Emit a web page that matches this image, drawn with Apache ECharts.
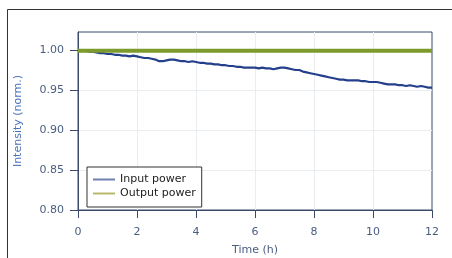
<!DOCTYPE html>
<html><head><meta charset="utf-8">
<script src="https://cdn.jsdelivr.net/npm/echarts@6/dist/echarts.min.js"></script>
<style>html,body{margin:0;padding:0;background:#fff}#c{width:452px;height:258px}</style>
</head><body><div id="c"></div>
<script>
var inputTimes = [0,0.125,0.25,0.375,0.5,0.625,0.75,0.875,1,1.125,1.25,1.375,1.5,1.625,1.75,1.875,2,2.125,2.25,2.375,2.5,2.625,2.75,2.875,3,3.125,3.25,3.375,3.5,3.625,3.75,3.875,4,4.125,4.25,4.375,4.5,4.625,4.75,4.875,5,5.125,5.25,5.375,5.5,5.625,5.75,5.875,6,6.125,6.25,6.375,6.5,6.625,6.75,6.875,7,7.125,7.25,7.375,7.5,7.625,7.75,7.875,8,8.125,8.25,8.375,8.5,8.625,8.75,8.875,9,9.125,9.25,9.375,9.5,9.625,9.75,9.875,10,10.125,10.25,10.375,10.5,10.625,10.75,10.875,11,11.125,11.25,11.375,11.5,11.625,11.75,11.875,12];
var inputPower = [0.999,0.999,0.999,0.998,0.998,0.997,0.996,0.996,0.995,0.995,0.994,0.994,0.993,0.993,0.992,0.993,0.992,0.991,0.990,0.990,0.989,0.988,0.986,0.986,0.987,0.988,0.988,0.987,0.986,0.986,0.985,0.986,0.985,0.984,0.984,0.983,0.983,0.982,0.982,0.981,0.981,0.980,0.980,0.979,0.979,0.978,0.978,0.978,0.978,0.977,0.978,0.977,0.977,0.976,0.977,0.978,0.978,0.977,0.976,0.975,0.975,0.973,0.972,0.971,0.970,0.969,0.968,0.967,0.966,0.965,0.964,0.963,0.963,0.962,0.962,0.962,0.962,0.961,0.961,0.960,0.960,0.960,0.959,0.958,0.957,0.957,0.957,0.956,0.956,0.955,0.956,0.955,0.954,0.955,0.954,0.953,0.953];
var outputTimes = [0,1,2,3,4,5,6,7,8,9,10,11,12];
var outputPower = [0.999,0.999,0.999,0.999,0.999,0.999,0.999,0.999,0.999,0.999,0.999,0.999,0.999];
var xTicks = [0,2,4,6,8,10,12];
var yTicks = [0.80,0.85,0.90,0.95,1.00];

function pairs(t, v){ return t.map(function(x,i){ return [x, v[i]]; }); }
var axisCol = '#3b4a6b', labCol = '#4a5d80', font = 'DejaVu Sans';
var chart = echarts.init(document.getElementById('c'), null, {renderer:'canvas'});
chart.setOption({
  animation:false,
  backgroundColor:'#fff',
  graphic:[{type:'rect', shape:{x:7.5,y:9.5,width:460,height:260}, style:{fill:'none',stroke:'#333',lineWidth:1}, silent:true, z:-1}],
  grid:{left:78,right:20,top:32,bottom:48,outerBoundsMode:'none',containLabel:false,show:true,borderColor:axisCol,borderWidth:1,backgroundColor:'transparent'},
  legend:{
    orient:'vertical', left:87, top:167,
    backgroundColor:'#fff', borderColor:'#333', borderWidth:1, padding:[7,6,8,6],
    itemGap:3, itemWidth:22, itemHeight:2, icon:'rect',
    textStyle:{fontFamily:font,fontSize:11,color:'#222'},
    data:[{name:'Input power', itemStyle:{color:'#7080b0'}},{name:'Output power', itemStyle:{color:'#b8b86a'}}]
  },
  xAxis:{
    type:'value', min:0, max:12, interval:2,
    name:'Time (h)', nameLocation:'middle', nameGap:35,
    nameTextStyle:{fontFamily:font,fontSize:11,color:labCol},
    axisLine:{show:true,lineStyle:{color:axisCol,width:1}},
    axisTick:{show:true,length:8,inside:false,lineStyle:{color:axisCol}},
    axisLabel:{fontFamily:font,fontSize:11,color:labCol,margin:17,formatter:function(v){return xTicks.indexOf(v)>=0?String(v):'';}},
    splitLine:{show:true,showMinLine:false,showMaxLine:false,lineStyle:{color:'#e9edf2',width:1}}
  },
  yAxis:{
    type:'value', min:0.8, max:1.0225, interval:0.05,
    name:'Intensity (norm.)', nameLocation:'middle', nameGap:54,
    nameTextStyle:{fontFamily:font,fontSize:11,color:'#4a72b8'},
    axisLine:{show:true,lineStyle:{color:axisCol,width:1}},
    axisTick:{show:true,length:8,lineStyle:{color:axisCol}},
    axisLabel:{fontFamily:font,fontSize:11,color:labCol,margin:14,showMaxLabel:false,
      formatter:function(v){ for(var i=0;i<yTicks.length;i++){ if(Math.abs(yTicks[i]-v)<1e-6) return yTicks[i].toFixed(2);} return ''; }},
    splitLine:{show:true,showMinLine:false,showMaxLine:false,lineStyle:{color:'#e9edf2',width:1}}
  },
  series:[
    {name:'Input power', type:'line', data:pairs(inputTimes, inputPower), showSymbol:false, symbol:'none', lineStyle:{color:'#24408c',width:2.2}, itemStyle:{color:'#7080b0'}},
    {name:'Output power', type:'line', data:pairs(outputTimes, outputPower), showSymbol:false, symbol:'none', lineStyle:{color:'#7d9a2c',width:4}, itemStyle:{color:'#b8b86a'}}
  ]
});
</script></body></html>
